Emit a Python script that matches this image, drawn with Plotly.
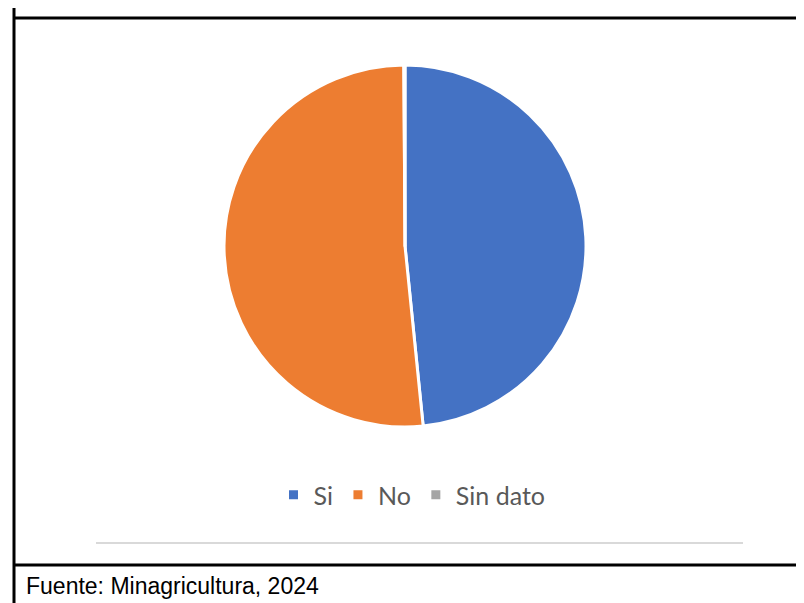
import plotly.graph_objects as go

labels = ["Si", "No", "Sin dato"]
values = [48.4, 51.5, 0.1]
colors = ["#4472C4", "#ED7D31", "#A5A5A5"]
source_text = "Fuente: Minagricultura, 2024"

W, H = 804, 603
def px(x):
    return x / W
def py(y):
    return 1 - y / H

cx, cy, r = 397, 238, 181

fig = go.Figure()
fig.add_trace(go.Pie(
    labels=labels,
    values=values,
    sort=False,
    direction="clockwise",
    rotation=0,
    textinfo="none",
    hoverinfo="label+percent",
    marker=dict(colors=colors, line=dict(color="white", width=3)),
    domain=dict(x=[px(cx - r), px(cx + r)], y=[py(cy + r), py(cy - r)]),
))

black = dict(color="black", width=3)
shapes = [
    dict(type="line", xref="paper", yref="paper", x0=px(6), x1=px(6), y0=0, y1=1, line=black),
    dict(type="line", xref="paper", yref="paper", x0=px(6), x1=1, y0=py(10), y1=py(10), line=black),
    dict(type="line", xref="paper", yref="paper", x0=px(801), x1=px(801), y0=py(10), y1=py(557), line=black),
    dict(type="line", xref="paper", yref="paper", x0=px(6), x1=1, y0=py(557), y1=py(557), line=black),
    dict(type="line", xref="paper", yref="paper", x0=px(88), x1=px(735), y0=py(535), y1=py(535),
         line=dict(color="#D9D9D9", width=2)),
]

fig.update_layout(
    width=W, height=H,
    margin=dict(l=0, r=0, t=0, b=0),
    paper_bgcolor="white",
    plot_bgcolor="white",
    shapes=shapes,
    showlegend=True,
    legend=dict(
        orientation="h",
        x=px(404), xanchor="center",
        y=py(487), yanchor="middle",
        font=dict(family="Lato", size=25, color="#595959"),
        itemwidth=30,
        traceorder="normal",
    ),
    annotations=[dict(
        text=source_text, xref="paper", yref="paper",
        x=px(16), y=py(578), xanchor="left", yanchor="middle",
        showarrow=False, font=dict(family="Liberation Sans", size=23, color="black"),
    )],
)

fig.write_html("out.html")
